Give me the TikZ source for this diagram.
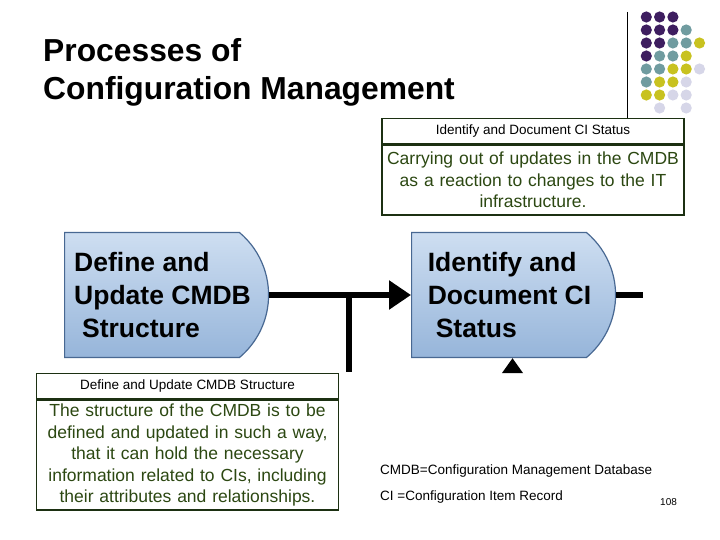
\documentclass[tikz,border=0pt]{standalone}
\usepackage{fontspec}
\setmainfont{Liberation Sans}
\usepackage{tikz}
\usetikzlibrary{arrows.meta,positioning,shapes.misc}
\usepackage{xcolor}
\definecolor{dotpurple}{RGB}{62,30,96}
\definecolor{dotteal}{RGB}{112,156,160}
\definecolor{dotyellow}{RGB}{200,194,32}
\definecolor{dotlav}{RGB}{214,214,232}
\definecolor{procedge}{RGB}{72,104,146}
\definecolor{proctop}{RGB}{206,222,241}
\definecolor{procbot}{RGB}{150,181,218}
\definecolor{descedge}{RGB}{28,48,18}
\definecolor{desctext}{RGB}{44,72,18}
\newcommand{\procind}{\hspace*{4pt}}
\tikzset{
  proc/.style={rounded rectangle,rounded rectangle west arc=none,
               rounded rectangle arc length=100,draw=procedge,line width=1.2pt,
               top color=proctop,bottom color=procbot,
               minimum width=204pt,minimum height=125pt,inner sep=0pt,anchor=west,
               align=left,font=\fontsize{26.5}{33}\selectfont\bfseries},
  deschead/.style={draw=descedge,line width=1.6pt,fill=white,minimum width=302pt,
                   minimum height=25pt,inner sep=0pt,font=\fontsize{13.5}{16}\selectfont},
  descbody/.style={draw=descedge,line width=1.6pt,fill=white,minimum width=302pt,
                   text width=296pt,align=center,minimum height=70pt,inner sep=2pt,
                   text=desctext,font=\fontsize{17.5}{21.5}\selectfont},
  flow/.style={line width=5.5pt,draw=black},
  flowtip/.style={-{Triangle[length=22pt,width=28pt]}},
  note/.style={anchor=base west,inner sep=0pt,font=\fontsize{13.5}{16}\selectfont},
}
\begin{document}
\begin{tikzpicture}[x=1pt,y=-1pt]
  \useasboundingbox (0,0) rectangle (720,540);
  % title
  \node[anchor=base west,inner sep=0pt,font=\fontsize{31.8}{38}\selectfont\bfseries]
    (title1) at (43,62) {Processes of};
  \node[anchor=base west,inner sep=0pt,font=\fontsize{31.8}{38}\selectfont\bfseries]
    (title2) at (43,100) {Configuration Management};
  % dot decoration
  \draw[black,line width=0.8pt] (627,12) coordinate (rulet) -- (627,118) coordinate (ruleb);
  \foreach \c/\r/\col in {1/1/dotpurple,2/1/dotpurple,3/1/dotpurple,
      1/2/dotpurple,2/2/dotpurple,3/2/dotpurple,4/2/dotteal,
      1/3/dotpurple,2/3/dotpurple,3/3/dotteal,4/3/dotteal,5/3/dotyellow,
      1/4/dotpurple,2/4/dotteal,3/4/dotteal,4/4/dotyellow,
      1/5/dotteal,2/5/dotteal,3/5/dotyellow,4/5/dotyellow,5/5/dotlav,
      1/6/dotteal,2/6/dotyellow,3/6/dotyellow,4/6/dotlav,
      1/7/dotyellow,2/7/dotyellow,3/7/dotlav,4/7/dotlav,
      2/8/dotlav,4/8/dotlav}{
    \fill[\col] ({633+13.3*\c},{4+13*\r}) circle (5.6);
  }
  % process shapes
  \node[proc] (define) at (64,295)
    {\procind Define and\\\procind Update CMDB\\\procind\hspace*{0.3em}Structure};
  \node[proc] (identify) at (411,295)
    {\procind Identify and\\\procind Document CI\\\procind\hspace*{0.3em}Status};
  % description boxes
  \node[deschead] (idhead) at (533,131) {Identify and Document CI Status};
  \node[descbody,below=0pt of idhead] (idbody)
    {Carrying out of updates in the CMDB\\as a reaction to changes to the IT\\infrastructure.};
  \node[deschead] (defhead) at (187.5,386) {Define and Update CMDB Structure};
  \node[descbody,below=0pt of defhead,minimum height=110pt] (defbody)
    {The structure of the CMDB is to be\\defined and updated in such a way,\\that it can hold the necessary\\information related to CIs, including\\their attributes and relationships.};
  % connectors
  \coordinate (branch) at (349,295);
  \coordinate (branchend) at (349,372);
  \coordinate (outend) at (643,295);
  \coordinate (upbase) at (512.5,372);
  \draw[flow,flowtip] (define.east) -- (identify.west);
  \draw[flow] (branch) -- (branchend);
  \draw[flow] (identify.east) -- (outend);
  \draw[flow,-{Triangle[length=15pt,width=20pt]}] (upbase) -- (upbase |- identify.south);
  % notes
  \node[note] (cmdbnote) at (380,474) {CMDB=Configuration Management Database};
  \node[note] (cinote) at (380,500) {CI =Configuration Item Record};
  \node[note,font=\fontsize{10}{12}\selectfont] (pagenum) at (660,505) {108};
\end{tikzpicture}
\end{document}
